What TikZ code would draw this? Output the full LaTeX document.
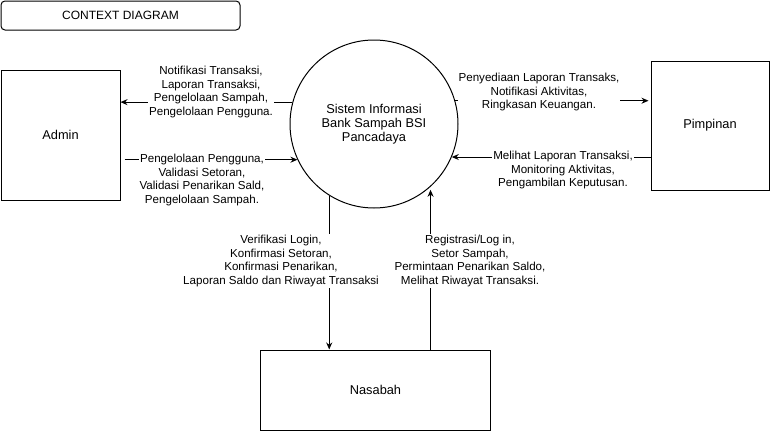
\documentclass[tikz,border=0pt]{standalone}
\usepackage{fontspec}
\setmainfont{Liberation Sans}
\usetikzlibrary{arrows.meta}
\begin{document}
\begin{tikzpicture}[x=1pt,y=-1pt,line width=1pt,
  entity/.style={draw,rectangle,font=\fontsize{12.8}{14}\selectfont},
  flowlabel/.style={fill=white,align=center,font=\fontsize{11.6}{13.6}\selectfont,inner xsep=1pt,inner ysep=1pt},
  flow/.style={-{Stealth[length=7pt,width=6pt]}}]
\useasboundingbox (0,0) rectangle (771,431);
\node[draw,rounded corners=4pt,minimum width=239pt,minimum height=29pt,font=\fontsize{12}{14}\selectfont] (title) at (120.5,15.5) {CONTEXT DIAGRAM};
\node[entity,minimum width=119pt,minimum height=130pt] (admin) at (60.5,135) {Admin};
\node[entity,minimum width=118pt,minimum height=129pt] (pim) at (710,125.5) {Pimpinan};
\node[entity,minimum width=230pt,minimum height=80pt] (nas) at (375.5,390) {Nasabah};
\node[circle,minimum size=168pt,inner sep=0pt,align=center,font=\fontsize{12.8}{14}\selectfont] (sys) at (374,124) {Sistem Informasi\\Bank Sampah BSI\\Pancadaya};
% connectors
\draw[flow] (sys.165.5) -- (sys.165.5 -| admin.east);
\draw[flow,shorten <=4pt] (admin.east |- sys.205.4) -- (sys.205.4);
\draw[flow,shorten >=2pt] (sys.16.6) -- (sys.16.6 -| pim.west);
\draw[flow] (pim.west |- sys.-23.1) -- (sys.-23.1);
\draw[flow] (sys.238.4) -- (sys.238.4 |- nas.north);
\draw[flow,shorten >=3pt] (sys.-48.2 |- nas.north) -- (sys.-48.2);
% labels
\node[flowlabel] (l1) at (211,92) {Notifikasi Transaksi,\\Laporan Transaksi,\\Pengelolaan Sampah,\\Pengelolaan Pengguna.};
\node[flowlabel] (l2) at (202,180) {Pengelolaan Pengguna,\\Validasi Setoran,\\Validasi Penarikan Sald,\\Pengelolaan Sampah.};
\node[flowlabel] (l3) at (539,92) {Penyediaan Laporan Transaks,\\Notifikasi Aktivitas,\\Ringkasan Keuangan.};
\node[flowlabel] (l4) at (563,170) {Melihat Laporan Transaksi,\\Monitoring Aktivitas,\\Pengambilan Keputusan.};
\node[flowlabel] (l5) at (281,261) {Verifikasi Login,\\Konfirmasi Setoran,\\Konfirmasi Penarikan,\\Laporan Saldo dan Riwayat Transaksi};
\node[flowlabel] (l6) at (470,261) {Registrasi/Log in,\\Setor Sampah,\\Permintaan Penarikan Saldo,\\Melihat Riwayat Transaksi.};
% circle outline drawn on top of label backgrounds
\draw (sys.center) circle[radius=84pt];
\end{tikzpicture}
\end{document}
